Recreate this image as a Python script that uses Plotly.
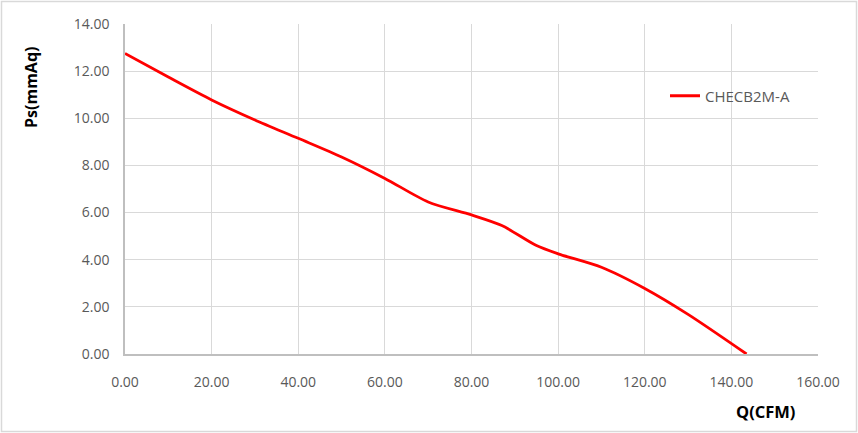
import plotly.graph_objects as go

q_cfm = [0, 10, 20, 30, 40, 50, 60, 70, 80, 87, 95, 100, 110, 120, 130, 143.5]
ps_mmaq = [12.75, 11.75, 10.78, 9.93, 9.15, 8.36, 7.45, 6.45, 5.9, 5.45, 4.6, 4.25, 3.68, 2.78, 1.68, 0.0]
series_name = "CHECB2M-A"
x_ticks = [0, 20, 40, 60, 80, 100, 120, 140, 160]
y_ticks = [0, 2, 4, 6, 8, 10, 12, 14]

W, H = 858, 433
ml, mr, mt, mb = 125, 40, 24, 79
pw, ph = W - ml - mr, H - mt - mb

font = "Open Sans, Liberation Sans, sans-serif"
fig = go.Figure()
fig.add_trace(go.Scatter(
    x=q_cfm, y=ps_mmaq, mode="lines", name=series_name,
    line=dict(color="#ff0000", width=2.8, shape="spline", smoothing=0.8),
))

fig.update_layout(
    width=W, height=H,
    margin=dict(l=ml, r=mr, t=mt, b=mb),
    paper_bgcolor="white", plot_bgcolor="white",
    font=dict(family=font, size=14, color="#595959"),
    showlegend=True,
    legend=dict(x=(665 - ml) / pw, y=(354 - 96) / ph, xanchor="left", yanchor="middle",
                bgcolor="rgba(0,0,0,0)", font=dict(size=15, color="#595959")),
    xaxis=dict(range=[0, 160], tickvals=x_ticks,
               ticktext=[f"{v:.2f}" for v in x_ticks],
               showgrid=True, gridcolor="#d9d9d9", gridwidth=1,
               showline=True, linecolor="#bfbfbf", linewidth=1.5,
               zeroline=False, ticks="outside", ticklen=14, tickcolor="rgba(0,0,0,0)",
               fixedrange=True),
    yaxis=dict(range=[0, 14], tickvals=y_ticks,
               ticktext=[f"{v:.2f}" for v in y_ticks],
               showgrid=True, gridcolor="#d9d9d9", gridwidth=1,
               showline=True, linecolor="#bfbfbf", linewidth=1.5,
               zeroline=False, ticks="outside", ticklen=11, tickcolor="rgba(0,0,0,0)",
               fixedrange=True),
)

fig.add_annotation(text="<b>Ps(mmAq)</b>", xref="paper", yref="paper",
                   x=(31 - ml) / pw, y=(354 - 88) / ph, textangle=-90,
                   showarrow=False, font=dict(size=16, color="#000000"),
                   xanchor="center", yanchor="middle")
fig.add_annotation(text="<b>Q(CFM)</b>", xref="paper", yref="paper",
                   x=(765 - ml) / pw, y=(354 - 411) / ph,
                   showarrow=False, font=dict(size=16.5, color="#000000"),
                   xanchor="center", yanchor="middle")
# outer chart border
fig.add_shape(type="rect", xref="paper", yref="paper",
              x0=(1.5 - ml) / pw, x1=(856.5 - ml) / pw,
              y0=(354 - 431.5) / ph, y1=(354 - 1.5) / ph,
              line=dict(color="#d9d9d9", width=1.5))

fig.write_html("out.html", config={"displayModeBar": False},
               post_script="document.body.style.margin='0';")
